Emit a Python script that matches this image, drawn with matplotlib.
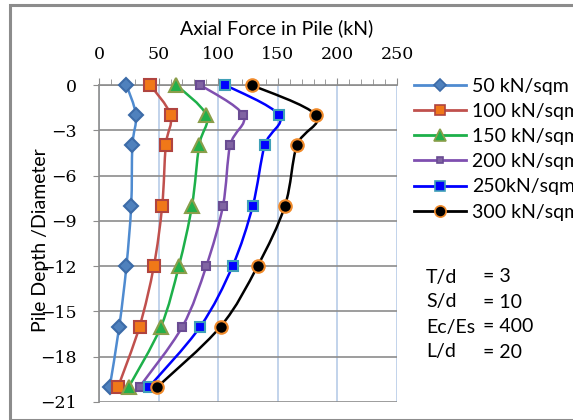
import numpy as np
import matplotlib
matplotlib.use("Agg")
import matplotlib.pyplot as plt
from matplotlib.path import Path
from matplotlib.patches import PathPatch, Rectangle
from matplotlib.lines import Line2D
from matplotlib.ticker import MultipleLocator

depth = [0, -2, -4, -8, -12, -16, -20]
labels = ["50 kN/sqm", "100 kN/sqm", "150 kN/sqm", "200 kN/sqm", "250kN/sqm", "300 kN/sqm"]
s50 = [23, 31, 28, 27, 23, 17, 9]
s100 = [43, 60, 56, 53, 46, 34, 16]
s150 = [65, 90, 84, 78, 67, 52, 25]
s200 = [85, 121, 110, 104, 90, 70, 34]
s250 = [106, 151, 139, 129, 112, 85, 42]
s300 = [128, 182, 166, 156, 133, 102, 49]
series = [s50, s100, s150, s200, s250, s300]
x_ticks = [0, 50, 100, 150, 200, 250]
y_ticks = [0, -3, -6, -9, -12, -15, -18, -21]
params = ["T/d", "S/d", "Ec/Es", "L/d"]
param_vals = ["= 3", "= 10", "= 400", "= 20"]

styles = [
    dict(color="#4F8BD0", marker="D", mfc="#4F81BD", mec="#3C6BA8", ms=7),
    dict(color="#C0504D", marker="s", mfc="#F07818", mec="#B0443F", ms=8),
    dict(color="#1DB04A", marker="^", mfc="#22B04B", mec="#8A9E4A", ms=10),
    dict(color="#7F4FB0", marker="s", mfc="#8064A2", mec="#6A4C93", ms=5.5),
    dict(color="#0000FF", marker="s", mfc="#0000FF", mec="#3FA0B8", ms=7.5),
    dict(color="#000000", marker="o", mfc="#000000", mec="#F08A2A", ms=9),
]

FONT = "Lato"
W, H = 573, 420
fig = plt.figure(figsize=(W / 100, H / 100), dpi=100)
fig.patches.append(Rectangle((10 / W, 0), 1.2, 1 - 5 / H, transform=fig.transFigure,
                             fill=False, ec="#8C8C8C", lw=2.2, zorder=0))
ax = fig.add_axes([99 / W, 1 - 402 / H, (397 - 99) / W, (402 - 85) / H])


def smooth_path(xs, ys, t=0.5 / 3):
    pts = np.column_stack([xs, ys]).astype(float)
    verts = [pts[0]]
    codes = [Path.MOVETO]
    n = len(pts)
    for i in range(n - 1):
        p0 = pts[i - 1] if i > 0 else pts[i]
        p1 = pts[i]
        p2 = pts[i + 1]
        p3 = pts[i + 2] if i + 2 < n else pts[i + 1]
        c1 = p1 + (p2 - p0) * t
        c2 = p2 - (p3 - p1) * t
        verts += [c1, c2, p2]
        codes += [Path.CURVE4] * 3
    return Path(verts, codes)


for vals, st in zip(series, styles):
    patch = PathPatch(smooth_path(vals, depth), fill=False, ec=st["color"], lw=1.8, zorder=3)
    ax.add_patch(patch)
    ax.plot(vals, depth, ls="none", marker=st["marker"], ms=st["ms"], mfc=st["mfc"],
            mec=st["mec"], mew=1.5, zorder=4, clip_on=False)

ax.set_xlim(0, 250)
ax.set_ylim(-21, 0)
ax.xaxis.set_ticks_position("top")
ax.xaxis.set_label_position("top")
ax.set_xticks(x_ticks)
ax.set_yticks(y_ticks)
ax.xaxis.set_minor_locator(MultipleLocator(10))
ax.tick_params(axis="x", which="major", direction="out", length=5, color="#8C8C8C", pad=11,
               labelsize=12.5, labelfontfamily="DejaVu Serif")
ax.tick_params(axis="x", which="minor", direction="out", length=4, color="#8C8C8C")
ax.tick_params(axis="y", which="major", direction="out", length=4, color="#8C8C8C", pad=12,
               labelsize=12.5, labelfontfamily="DejaVu Serif")

ax.grid(axis="x", color="#B8CCE8", lw=1.2)
ax.grid(axis="y", color="#8C8C8C", lw=1.2)
ax.set_axisbelow(True)
for side in ["right", "bottom"]:
    ax.spines[side].set_visible(False)
ax.spines["top"].set_color("#8C8C8C")
ax.spines["left"].set_color("#8C8C8C")
ax.spines["top"].set_linewidth(1.2)
ax.spines["left"].set_linewidth(1.2)
ax.spines["top"].set_position(("data", 0))

fig.text(277 / W, 1 - 28 / H, "Axial Force in Pile (kN)", ha="center", va="center",
         fontsize=14, family=FONT)
fig.text(41 / W, 1 - 240 / H, "Pile Depth /Diameter", ha="center", va="center",
         rotation=90, fontsize=14, family=FONT)

handles = [Line2D([0], [0], color=st["color"], lw=2, marker=st["marker"],
                  ms=st["ms"] * 0.9, mfc=st["mfc"], mec=st["mec"], mew=1.2) for st in styles]
leg = fig.legend(handles, labels, loc="upper left", bbox_to_anchor=(406 / W, 1 - 70 / H),
                 frameon=False, handlelength=2.7, handletextpad=0.3,
                 labelspacing=0.42, borderaxespad=0, prop={"family": FONT, "size": 14})

for i, (p, v) in enumerate(zip(params, param_vals)):
    y = 1 - (277 + i * 25) / H
    fig.text(426 / W, y, p, ha="left", va="center", fontsize=14, family=FONT)
    fig.text(483 / W, y, v, ha="left", va="center", fontsize=14, family=FONT)

fig.savefig("out.png", dpi=100)
